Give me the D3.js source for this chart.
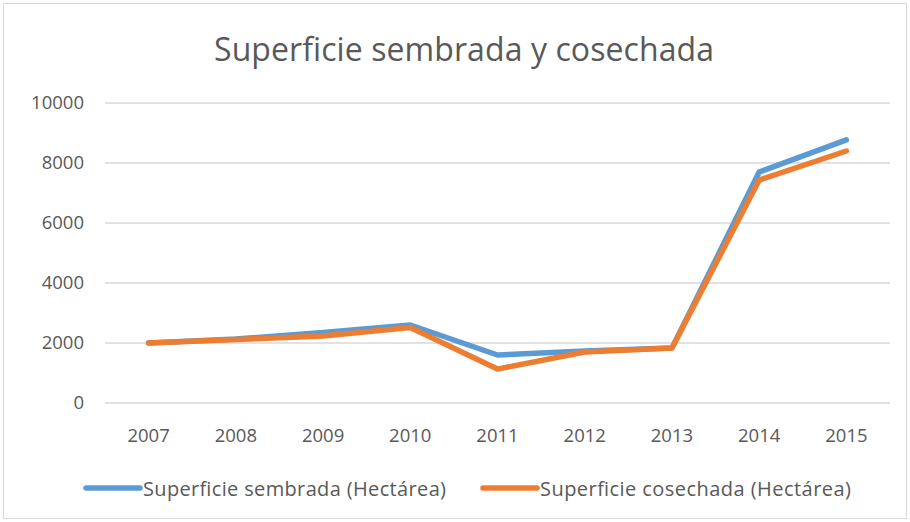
<!DOCTYPE html>
<html>
<head>
<meta charset="utf-8">
<script src="https://cdn.jsdelivr.net/npm/d3@7"></script>
<style>
  body { margin: 0; background: #fff; }
  text { font-family: "Open Sans", "Liberation Sans", sans-serif; fill: #595959; }
</style>
</head>
<body>
<div id="chart"></div>
<script>
// data
var years = ["2007", "2008", "2009", "2010", "2011", "2012", "2013", "2014", "2015"];
var sembrada = [2000, 2130, 2350, 2600, 1600, 1730, 1830, 7700, 8770];
var cosechada = [2000, 2120, 2230, 2520, 1130, 1700, 1830, 7430, 8400];
var yTicks = [0, 2000, 4000, 6000, 8000, 10000];
var seriesNames = ["Superficie sembrada (Hectárea)", "Superficie cosechada (Hectárea)"];
var colors = ["#5B9BD5", "#ED7D31"];

var width = 910, height = 522;
var svg = d3.select("#chart").append("svg")
  .attr("width", width).attr("height", height);

// outer chart border
svg.append("rect")
  .attr("x", 3.5).attr("y", 3.5)
  .attr("width", width - 7).attr("height", height - 7)
  .style("fill", "none").style("stroke", "#D9D9D9");

svg.append("text")
  .attr("x", 464).attr("y", 61)
  .attr("text-anchor", "middle")
  .style("font-size", "32px")
  .attr("textLength", 500)
  .text("Superficie sembrada y cosechada");

var x = d3.scaleBand().domain(years).range([105, 890]);
var y = d3.scaleLinear().domain([0, 10000]).range([403, 103]);

// gridlines
svg.append("g").selectAll("line")
  .data(yTicks)
  .enter().append("line")
  .attr("x1", 105).attr("x2", 890)
  .attr("y1", function(d) { return y(d); })
  .attr("y2", function(d) { return y(d); })
  .style("stroke", "#D9D9D9").style("stroke-width", 1.3);

// y labels
var yAxis = svg.append("g")
  .attr("transform", "translate(84,0)")
  .call(d3.axisLeft(y).tickValues(yTicks).tickSize(0).tickPadding(0).tickFormat(d3.format("d")));
yAxis.select(".domain").remove();
yAxis.selectAll("text").style("font-size", "18.5px").style("font-family", null).attr("fill", null);

// x labels
var xAxis = svg.append("g")
  .attr("transform", "translate(0,429)")
  .call(d3.axisBottom(x).tickSize(0).tickPadding(0));
xAxis.select(".domain").remove();
xAxis.selectAll("text").style("font-size", "18.5px").style("font-family", null).attr("fill", null);

var line = d3.line()
  .x(function(d, i) { return x(years[i]) + x.bandwidth() / 2; })
  .y(function(d) { return y(d); });

[sembrada, cosechada].forEach(function(vals, k) {
  svg.append("path")
    .datum(vals)
    .attr("d", line)
    .style("fill", "none")
    .style("stroke", colors[k])
    .style("stroke-width", 5.5)
    .style("stroke-linecap", "round")
    .style("stroke-linejoin", "round");
});

// legend
var legendX = [86, 483];
var legendLen = [303, 311];
seriesNames.forEach(function(name, k) {
  var g = svg.append("g").attr("transform", "translate(" + legendX[k] + ",488)");
  g.append("line")
    .attr("x1", 0).attr("x2", 54)
    .style("stroke", colors[k]).style("stroke-width", 5.5)
    .style("stroke-linecap", "round");
  g.append("text")
    .attr("x", 57).attr("y", 7.5)
    .style("font-size", "20px")
    .attr("textLength", legendLen[k])
    .text(name);
});
</script>
</body>
</html>
